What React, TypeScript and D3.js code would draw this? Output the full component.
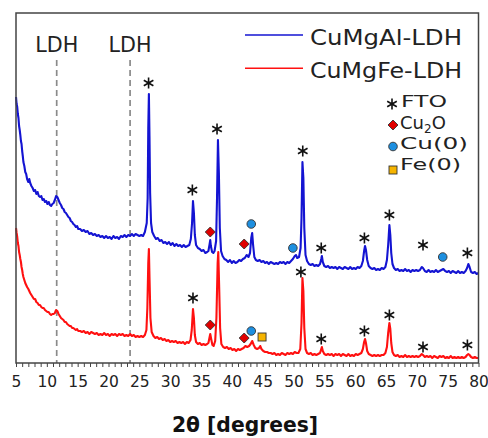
import React, { useEffect, useRef } from 'react'
import { select, scaleLinear, line, axisBottom, range } from 'd3'

// 2theta (deg), intensity (a.u.)
const blueSeries: [number, number][] = [
  [5.0,266],[5.1,259],[5.2,256],[5.3,249],[5.4,245],[5.5,237],[5.6,233],[5.7,228],[5.8,222],[5.9,219],[6.0,212],[6.1,207],[6.2,201],[6.35,197],[6.5,191],[6.65,189],[6.8,184],[7.0,181],[7.15,184],[7.3,180],[7.5,177],[7.7,175],[7.9,172],[8.1,173],[8.3,169],[8.5,171],[8.7,167],[8.9,166],[9.1,167],[9.3,163],[9.5,164],[9.7,161],[9.9,162],[10.1,159],[10.3,161],[10.5,158],[10.7,157],[10.9,159],[11.1,160],[11.3,163],[11.5,167],[11.7,166],[11.9,163],[12.1,160],[12.3,158],[12.5,155],[12.7,154],[12.9,151],[13.1,150],[13.3,148],[13.5,146],[13.7,145],[13.9,142],[14.1,141],[14.3,139],[14.5,138],[14.7,136],[14.9,137],[15.1,134],[15.4,134],[15.7,132],[16.0,133],[16.3,131],[16.6,132],[16.9,129],[17.2,130],[17.5,128],[17.8,129],[18.1,127],[18.4,128],[18.7,126],[19.0,127],[19.3,125],[19.6,127],[19.9,125],[20.2,126],[20.5,124],[20.8,127],[21.1,125],[21.4,126],[21.7,124],[22.0,127],[22.3,126],[22.6,128],[22.9,126],[23.2,128],[23.5,127],[23.8,129],[24.1,127],[24.4,129],[24.7,128],[25.0,127],[25.3,128],[25.6,127],[25.9,131],[26.2,140],[26.35,165],[26.45,235],[26.55,269],[26.65,225],[26.75,170],[26.9,140],[27.1,131],[27.4,127],[27.7,124],[28.0,125],[28.3,122],[28.6,123],[28.9,120],[29.2,121],[29.5,119],[29.8,121],[30.1,118],[30.4,120],[30.7,117],[31.0,119],[31.3,117],[31.6,118],[31.9,116],[32.2,118],[32.5,116],[32.8,117],[33.1,118],[33.35,124],[33.55,140],[33.7,162],[33.85,150],[34.0,128],[34.2,118],[34.5,115],[34.8,114],[35.1,112],[35.4,113],[35.7,110],[36.0,111],[36.2,112],[36.4,119],[36.5,123],[36.6,117],[36.8,111],[37.0,110],[37.2,112],[37.45,122],[37.6,165],[37.75,223],[37.9,190],[38.05,135],[38.25,112],[38.5,107],[38.8,104],[39.1,103],[39.4,101],[39.7,103],[40.0,100],[40.3,102],[40.6,100],[40.9,101],[41.2,103],[41.5,102],[41.8,104],[42.1,105],[42.4,108],[42.7,106],[42.95,110],[43.15,125],[43.3,130],[43.45,118],[43.65,106],[43.9,103],[44.2,102],[44.5,103],[44.8,101],[45.1,102],[45.4,100],[45.7,101],[46.0,99],[46.3,101],[46.6,100],[46.9,99],[47.2,100],[47.5,99],[47.8,101],[48.1,100],[48.4,101],[48.7,99],[49.0,101],[49.3,100],[49.6,102],[49.9,104],[50.2,107],[50.4,108],[50.6,105],[50.9,106],[51.15,115],[51.3,145],[51.45,201],[51.6,185],[51.75,135],[51.95,108],[52.2,102],[52.5,99],[52.8,98],[53.1,99],[53.4,97],[53.7,98],[54.0,97],[54.3,99],[54.5,104],[54.6,107],[54.75,101],[55.0,97],[55.3,96],[55.6,97],[55.9,95],[56.2,96],[56.5,95],[56.8,96],[57.1,94],[57.4,96],[57.7,95],[58.0,94],[58.3,96],[58.6,95],[58.9,94],[59.2,96],[59.5,94],[59.8,95],[60.1,94],[60.4,96],[60.7,95],[61.0,97],[61.25,102],[61.45,112],[61.6,117],[61.75,113],[61.95,103],[62.2,97],[62.5,95],[62.8,94],[63.1,95],[63.4,93],[63.7,94],[64.0,93],[64.3,95],[64.6,94],[64.9,96],[65.15,103],[65.35,118],[65.55,138],[65.7,128],[65.85,110],[66.05,99],[66.3,95],[66.6,93],[66.9,94],[67.2,92],[67.5,93],[67.8,92],[68.1,94],[68.4,92],[68.7,93],[69.0,91],[69.3,93],[69.6,92],[69.9,93],[70.2,92],[70.5,93],[70.8,96],[71.0,95],[71.3,92],[71.6,91],[71.9,93],[72.2,91],[72.5,92],[72.8,91],[73.1,93],[73.4,91],[73.7,92],[74.0,93],[74.3,94],[74.6,92],[74.9,91],[75.2,92],[75.5,90],[75.8,92],[76.1,91],[76.4,90],[76.7,92],[77.0,90],[77.3,91],[77.6,90],[77.9,92],[78.15,95],[78.35,99],[78.55,96],[78.8,91],[79.1,90],[79.4,91],[79.7,89],[80.0,90]
]

const redSeries: [number, number][] = [
  [5.0,135],[5.1,130],[5.2,126],[5.3,120],[5.4,117],[5.5,111],[5.6,108],[5.7,104],[5.8,101],[5.9,96],[6.0,93],[6.1,89],[6.2,86],[6.35,83],[6.5,80],[6.65,78],[6.8,76],[7.0,74],[7.15,72],[7.3,70],[7.5,68],[7.7,66],[7.9,64],[8.1,64],[8.3,61],[8.5,60],[8.7,58],[8.9,58],[9.1,56],[9.3,55],[9.5,55],[9.7,53],[9.9,52],[10.1,51],[10.3,51],[10.5,49],[10.7,48],[10.9,49],[11.1,49],[11.3,50],[11.5,53],[11.7,52],[11.9,49],[12.1,47],[12.3,45],[12.5,44],[12.7,43],[12.9,41],[13.1,41],[13.3,39],[13.5,38],[13.7,37],[13.9,37],[14.1,35],[14.3,35],[14.5,34],[14.7,33],[14.9,34],[15.1,32],[15.4,32],[15.7,31],[16.0,32],[16.3,30],[16.6,31],[16.9,29],[17.2,31],[17.5,30],[17.8,29],[18.1,30],[18.4,28],[18.7,29],[19.0,28],[19.3,30],[19.6,28],[19.9,29],[20.2,27],[20.5,29],[20.8,28],[21.1,29],[21.4,27],[21.7,29],[22.0,28],[22.3,29],[22.6,27],[22.9,28],[23.2,27],[23.5,29],[23.8,27],[24.1,28],[24.4,26],[24.7,27],[25.0,26],[25.3,27],[25.6,26],[25.9,28],[26.15,33],[26.3,55],[26.45,100],[26.55,114],[26.65,85],[26.8,45],[27.0,31],[27.3,27],[27.6,25],[27.9,26],[28.2,24],[28.5,25],[28.8,23],[29.1,24],[29.4,22],[29.7,23],[30.0,21],[30.3,22],[30.6,21],[30.9,22],[31.2,20],[31.5,21],[31.8,20],[32.1,21],[32.4,19],[32.7,21],[33.0,20],[33.3,23],[33.5,33],[33.7,54],[33.85,45],[34.0,28],[34.2,21],[34.5,19],[34.8,20],[35.1,18],[35.4,19],[35.7,18],[36.0,19],[36.2,20],[36.4,26],[36.5,29],[36.65,24],[36.85,18],[37.05,17],[37.3,22],[37.5,45],[37.7,100],[37.8,111],[37.95,75],[38.1,35],[38.3,19],[38.6,16],[38.9,15],[39.2,16],[39.5,14],[39.8,15],[40.1,13],[40.4,14],[40.7,12],[41.0,14],[41.3,13],[41.6,14],[41.9,15],[42.2,17],[42.5,16],[42.8,17],[43.05,19],[43.3,22],[43.55,18],[43.8,15],[44.1,14],[44.4,15],[44.6,17],[44.8,14],[45.1,12],[45.4,11],[45.7,11],[46.0,10],[46.3,10],[46.6,9],[46.9,10],[47.2,8],[47.5,9],[47.8,8],[48.1,10],[48.4,9],[48.7,8],[49.0,10],[49.3,9],[49.6,10],[49.9,9],[50.2,11],[50.5,10],[50.8,10],[51.1,14],[51.3,40],[51.45,85],[51.6,72],[51.75,35],[51.95,14],[52.2,10],[52.5,9],[52.8,10],[53.1,8],[53.4,9],[53.7,8],[54.0,9],[54.3,10],[54.5,14],[54.6,16],[54.75,12],[55.0,9],[55.3,8],[55.6,9],[55.9,8],[56.2,9],[56.5,7],[56.8,9],[57.1,8],[57.4,9],[57.7,7],[58.0,9],[58.3,8],[58.6,7],[58.9,9],[59.2,7],[59.5,8],[59.8,7],[60.1,9],[60.4,8],[60.7,9],[61.0,10],[61.25,14],[61.45,21],[61.6,24],[61.75,20],[61.95,12],[62.2,9],[62.5,8],[62.8,7],[63.1,8],[63.4,7],[63.7,8],[64.0,7],[64.3,8],[64.6,8],[64.9,10],[65.15,16],[65.35,30],[65.55,40],[65.7,34],[65.85,20],[66.05,11],[66.3,8],[66.6,7],[66.9,8],[67.2,6],[67.5,7],[67.8,6],[68.1,8],[68.4,6],[68.7,7],[69.0,6],[69.3,7],[69.6,6],[69.9,7],[70.2,6],[70.5,7],[70.8,9],[71.0,8],[71.3,6],[71.6,7],[71.9,6],[72.2,7],[72.5,5],[72.8,7],[73.1,6],[73.4,5],[73.7,7],[74.0,6],[74.3,7],[74.6,5],[74.9,6],[75.2,5],[75.5,7],[75.8,5],[76.1,6],[76.4,5],[76.7,6],[77.0,5],[77.3,6],[77.6,5],[77.9,6],[78.15,8],[78.35,9],[78.55,8],[78.8,6],[79.1,5],[79.4,6],[79.7,5],[80.0,5]
]

// phase markers: [2theta, intensity]
const ftoMarks: [number, number][] = [
  [26.5,280],[33.6,173],[37.6,234],[51.5,212],[54.5,115],[61.5,125],[65.55,148],[71.0,118],[78.2,110],
  [33.7,65],[51.2,91],[54.5,24],[61.5,32],[65.55,48],[71.0,16],[78.2,18]
]
const cu2oMarks: [number, number][] = [[36.5,131],[42.0,119],[36.5,38],[42.0,25]]
const cuMarks: [number, number][] = [[43.15,139],[49.9,115],[74.2,106],[43.15,32]]
const feMarks: [number, number][] = [[44.9,26]]

const ldhPositions = [11.6, 23.5]
const seriesNames = ['CuMgAl-LDH', 'CuMgFe-LDH']
const seriesColors = ['#1414d2', '#ff1010']

const W = 488
const H = 438
const FONT = '"DejaVu Sans", sans-serif'

const asteriskPath = 'M0,-5.5L0,5.5M-4.8,-2.75L4.8,2.75M-4.8,2.75L4.8,-2.75'

function Marker({ kind, x, y }: { kind: string; x: number; y: number }) {
  if (kind === 'fto') return <path d={asteriskPath} transform={`translate(${x},${y})`} stroke="#111" strokeWidth={1.6} fill="none" />
  if (kind === 'cu2o') return <path d="M0,-5L5,0L0,5L-5,0Z" transform={`translate(${x},${y})`} fill="#e00000" stroke="#333" strokeWidth={0.9} />
  if (kind === 'cu') return <circle cx={x} cy={y} r={4.3} fill="#1d8fe0" stroke="#333" strokeWidth={0.9} />
  return <rect x={x - 4} y={y - 4} width={8} height={8} fill="#f6b400" stroke="#333" strokeWidth={0.9} />
}

export default function App() {
  const axisRef = useRef<SVGGElement>(null)

  const x = scaleLinear().domain([5, 80]).range([16, 478.5])
  const y = scaleLinear().domain([0, 350]).range([363, 13])

  const pathGen = line<[number, number]>()
    .x(d => x(d[0]))
    .y(d => y(d[1]))

  useEffect(() => {
    const g = select(axisRef.current)
    const ax = axisBottom(x)
      .tickValues(range(5, 81, 1))
      .tickSize(4)
      .tickPadding(9)
      .tickFormat(d => (+d % 5 === 0 ? String(d) : ''))
    g.call(ax as any)
    g.select('.domain').remove()
    g.selectAll('.tick line').attr('stroke', '#444').attr('stroke-width', 1)
    g.selectAll('.tick text')
      .attr('font-family', FONT)
      .attr('font-size', 15.5)
      .attr('fill', '#222')
  }, [])

  return (
    <svg width={W} height={H} style={{ position: 'absolute', left: 0, top: 0, background: '#fff' }}>
      {ldhPositions.map((p, i) => (
        <g key={i}>
          <line x1={x(p)} x2={x(p)} y1={60} y2={363} stroke="#8a8a8a" strokeWidth={1.7} strokeDasharray="6,4" />
          <text x={x(p)} y={51.5} textAnchor="middle" fontFamily={FONT} fontSize={22} fill="#222" textLength={43} lengthAdjust="spacingAndGlyphs">LDH</text>
        </g>
      ))}

      <path d={pathGen(blueSeries) || ''} fill="none" stroke={seriesColors[0]} strokeWidth={2.1} strokeLinejoin="round" />
      <path d={pathGen(redSeries) || ''} fill="none" stroke={seriesColors[1]} strokeWidth={2.1} strokeLinejoin="round" />

      {ftoMarks.map((m, i) => <Marker key={'f' + i} kind="fto" x={x(m[0])} y={y(m[1])} />)}
      {cu2oMarks.map((m, i) => <Marker key={'o' + i} kind="cu2o" x={x(m[0])} y={y(m[1])} />)}
      {cuMarks.map((m, i) => <Marker key={'c' + i} kind="cu" x={x(m[0])} y={y(m[1])} />)}
      {feMarks.map((m, i) => <Marker key={'e' + i} kind="fe" x={x(m[0])} y={y(m[1])} />)}

      {/* legend */}
      {seriesNames.map((n, i) => (
        <g key={n} transform={`translate(0,${i * 33.3})`}>
          <line x1={245} x2={303} y1={35} y2={35} stroke={seriesColors[i]} strokeWidth={1.6} />
          <text x={310} y={45} fontFamily={FONT} fontSize={20.5} fill="#222" textLength={152} lengthAdjust="spacingAndGlyphs">{n}</text>
        </g>
      ))}
      <Marker kind="fto" x={392} y={104} />
      <text x={401} y={107} fontFamily={FONT} fontSize={16} fill="#222" textLength={46} lengthAdjust="spacingAndGlyphs">FTO</text>
      <Marker kind="cu2o" x={393} y={125} />
      <text x={400} y={128.5} fontFamily={FONT} fontSize={18} fill="#222">Cu<tspan fontSize={12} dy={4}>2</tspan><tspan dy={-4}>O</tspan></text>
      <Marker kind="cu" x={393} y={146.5} />
      <text x={400} y={149} fontFamily={FONT} fontSize={16} fill="#222" textLength={68} lengthAdjust="spacingAndGlyphs">Cu(0)</text>
      <Marker kind="fe" x={393} y={170} />
      <text x={400} y={170} fontFamily={FONT} fontSize={16} fill="#222" textLength={61} lengthAdjust="spacingAndGlyphs">Fe(0)</text>

      {/* frame */}
      <rect x={16} y={13} width={462.5} height={350} fill="none" stroke="#444" strokeWidth={1.5} />
      <g ref={axisRef} transform="translate(0,363)" />

      <text x={245} y={432} textAnchor="middle" fontFamily={FONT} fontWeight="bold" fontSize={21} fill="#111" textLength={146} lengthAdjust="spacingAndGlyphs">2θ [degrees]</text>
    </svg>
  )
}
